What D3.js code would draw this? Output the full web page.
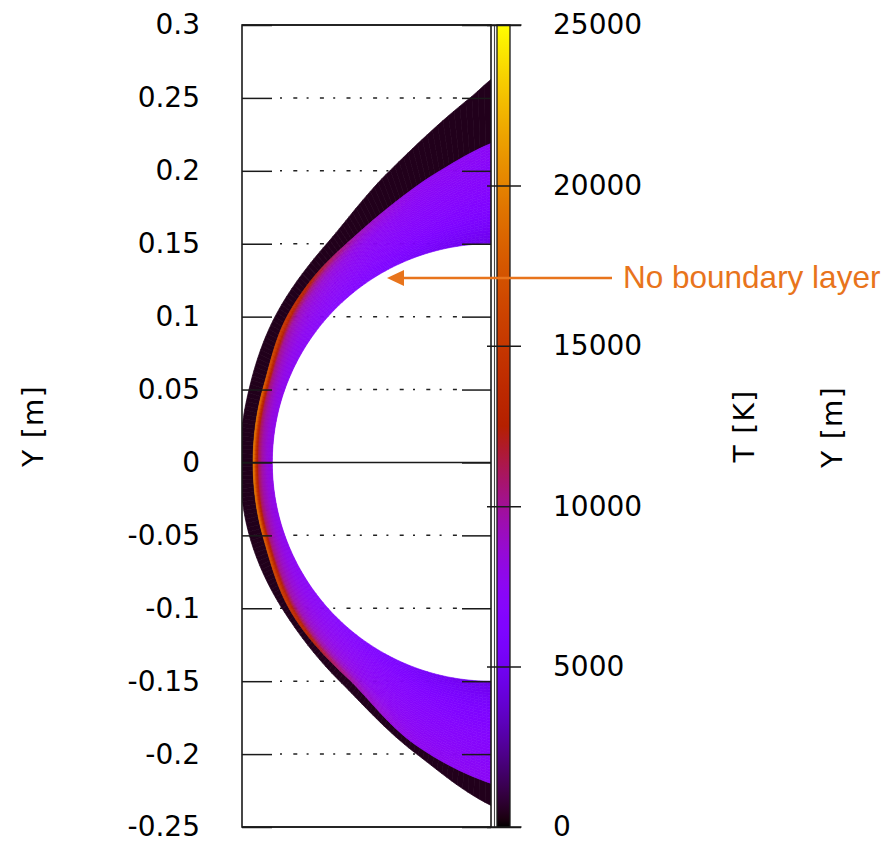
<!DOCTYPE html>
<html>
<head>
<meta charset="utf-8">
<script src="https://cdn.jsdelivr.net/npm/d3@7"></script>
<style>
  body { margin: 0; background: #fff; }
  svg { display: block; }
</style>
</head>
<body>
<svg id="chart" width="887" height="842"></svg>
<script>
// Temperature field in the shock layer ahead of a sphere (inviscid run, no boundary layer).
// Geometry in metres, body centre at (0, 0).

const bodyRadius = 0.15;

// shock front
const shockUpperX = [-0.1632, -0.1561, -0.1399, -0.1241, -0.0967, -0.0761, -0.035, 0];
const shockUpperY = [0, 0.0518, 0.1001, 0.1241, 0.1522, 0.1701, 0.2, 0.2188];
const shockLowerX = [-0.1561, -0.1385, -0.0981, -0.0507, 0];
const shockLowerY = [-0.0518, -0.1001, -0.1481, -0.1944, -0.2201];

// outer edge of the computational grid
const outerUpperX = [-0.1721, -0.168, -0.1481, -0.1125, -0.0693, -0.0144, 0];
const outerUpperY = [0, 0.0411, 0.1001, 0.1502, 0.2002, 0.25, 0.2627];
const outerLowerX = [-0.168, -0.1433, -0.1036, -0.0507, 0];
const outerLowerY = [-0.0411, -0.1001, -0.1502, -0.2002, -0.2352];

// temperature [K] across the shock layer
// rows: angle from the stagnation line [deg]; columns: fraction of the wall-to-shock distance
const layerAngles = [0, 15, 30, 45, 60, 75, 90];
const layerFractions = [0, 0.3, 0.55, 0.75, 0.87, 0.94, 1];
const layerTemperature = [
  [7800, 8600, 9800, 11500, 14500, 18000, 20000],
  [7700, 8400, 9500, 11000, 14000, 17000, 19000],
  [7300, 7800, 8800, 10000, 12500, 14800, 16000],
  [6800, 7300, 7900, 8800, 10200, 11800, 12800],
  [6000, 6800, 7200, 7600, 8300, 8900, 9300],
  [5200, 6400, 6900, 7200, 7400, 7600, 7700],
  [4500, 6000, 6700, 7000, 7200, 7300, 7300]
];
const freestreamTemperature = 420;

const yTicks = [0.3, 0.25, 0.2, 0.15, 0.1, 0.05, 0, -0.05, -0.1, -0.15, -0.2, -0.25];
const cbTicks = [0, 5000, 10000, 15000, 20000, 25000];

const plot = { left: 242, right: 491, top: 25, bottom: 827 };
const bar = { left: 497, right: 510 };

const svg = d3.select("#chart");
const x = d3.scaleLinear().domain([-0.1708, 0]).range([plot.left, plot.right]);
const y = d3.scaleLinear().domain([-0.25, 0.3]).range([plot.bottom, plot.top]);
const cbScale = d3.scaleLinear().domain([0, 25000]).range([plot.bottom, plot.top]);

// gnuplot default pm3d palette (rgbformulae 7,5,15)
const paletteInterp = t => {
  const r = Math.sqrt(t), g = t * t * t, b = Math.max(0, Math.sin(2 * Math.PI * t));
  return d3.rgb(r * 255, g * 255, b * 255).formatHex();
};
const color = d3.scaleSequential(paletteInterp).domain([0, 25000]).clamp(true);

// monotone cubic (Fritsch-Butland) interpolation
function monotone(xs, ys) {
  const n = xs.length, d = [], h = [], m = new Array(n);
  for (let i = 0; i < n - 1; i++) { h[i] = xs[i + 1] - xs[i]; d[i] = (ys[i + 1] - ys[i]) / h[i]; }
  m[0] = d[0]; m[n - 1] = d[n - 2];
  for (let i = 1; i < n - 1; i++) {
    if (d[i - 1] * d[i] <= 0) m[i] = 0;
    else m[i] = 3 * (h[i - 1] + h[i]) / ((2 * h[i] + h[i - 1]) / d[i - 1] + (h[i] + 2 * h[i - 1]) / d[i]);
  }
  return t => {
    const i = Math.max(0, Math.min(n - 2, d3.bisectRight(xs, t) - 1));
    const s = (t - xs[i]) / h[i];
    const h00 = 2 * s ** 3 - 3 * s ** 2 + 1, h10 = s ** 3 - 2 * s ** 2 + s;
    const h01 = -2 * s ** 3 + 3 * s ** 2, h11 = s ** 3 - s ** 2;
    return h00 * ys[i] + h10 * h[i] * m[i] + h01 * ys[i + 1] + h11 * h[i] * m[i + 1];
  };
}

// radius of a boundary as a function of the angle from the stagnation line
function polarProfile(xu, yu, xl, yl) {
  const pts = [];
  const add = (xs, ys) => xs.forEach((v, i) => pts.push({
    th: Math.atan2(ys[i], -v) * 180 / Math.PI, r: Math.hypot(v, ys[i])
  }));
  add(xu, yu); add(xl, yl);
  pts.sort((a, b) => a.th - b.th);
  return monotone(pts.map(p => p.th), pts.map(p => p.r));
}
const shockR = polarProfile(shockUpperX, shockUpperY, shockLowerX, shockLowerY);
const outerR = polarProfile(outerUpperX, outerUpperY, outerLowerX, outerLowerY);

function layerT(th, eta) {
  const a = Math.min(90, Math.abs(th));
  const i = Math.max(0, Math.min(layerAngles.length - 2, d3.bisectRight(layerAngles, a) - 1));
  const j = Math.max(0, Math.min(layerFractions.length - 2, d3.bisectRight(layerFractions, eta) - 1));
  const u = (a - layerAngles[i]) / (layerAngles[i + 1] - layerAngles[i]);
  const v = (eta - layerFractions[j]) / (layerFractions[j + 1] - layerFractions[j]);
  const T = layerTemperature;
  return (1 - u) * (1 - v) * T[i][j] + u * (1 - v) * T[i + 1][j]
       + (1 - u) * v * T[i][j + 1] + u * v * T[i + 1][j + 1];
}

const pt = (th, r) => {
  const a = th * Math.PI / 180;
  return [x(-r * Math.cos(a)), y(r * Math.sin(a))];
};

// mesh cells
const nTheta = 180, nEta = 36;
const darkCells = [], layerCells = [];
for (let i = 0; i < nTheta; i++) {
  const t0 = -90 + 180 * i / nTheta, t1 = -90 + 180 * (i + 1) / nTheta;
  const s0 = shockR(t0), s1 = shockR(t1), o0 = outerR(t0), o1 = outerR(t1);
  darkCells.push({ pts: [pt(t0, s0), pt(t1, s1), pt(t1, o1), pt(t0, o0)], T: freestreamTemperature });
  for (let j = 0; j < nEta; j++) {
    const e0 = j / nEta, e1 = (j + 1) / nEta;
    const r = (s, e) => bodyRadius + (s - bodyRadius) * e;
    layerCells.push({
      pts: [pt(t0, r(s0, e0)), pt(t1, r(s1, e0)), pt(t1, r(s1, e1)), pt(t0, r(s0, e1))],
      T: layerT((t0 + t1) / 2, (e0 + e1) / 2)
    });
  }
}

const defs = svg.append("defs");
defs.append("clipPath").attr("id", "plot-clip")
  .append("rect")
  .attr("x", plot.left).attr("y", plot.top)
  .attr("width", plot.right - plot.left).attr("height", plot.bottom - plot.top);

// grid
const gridTicks = yTicks.filter(v => v !== 0 && v !== 0.3 && v !== -0.25);
svg.append("g").selectAll("line").data(gridTicks).join("line")
  .attr("x1", plot.left + 38).attr("x2", plot.right - 29)
  .attr("y1", d => y(d)).attr("y2", d => y(d))
  .attr("stroke", "#222").attr("stroke-width", 1.5)
  .attr("stroke-dasharray", "2,11.3,4,9.3");

// temperature field
const line = d3.line();
const field = svg.append("g").attr("clip-path", "url(#plot-clip)");
field.append("g").selectAll("path").data(darkCells).join("path")
  .attr("d", d => line(d.pts) + "Z")
  .attr("fill", d => color(d.T)).attr("stroke", d => color(d.T)).attr("stroke-width", 0.7);
field.append("g").selectAll("path").data(layerCells).join("path")
  .attr("d", d => line(d.pts) + "Z")
  .attr("fill", d => color(d.T)).attr("stroke", d => color(d.T)).attr("stroke-width", 0.6);

// zero axis
svg.append("line")
  .attr("x1", plot.left).attr("x2", plot.right)
  .attr("y1", y(0)).attr("y2", y(0))
  .attr("stroke", "#1a1a1a").attr("stroke-width", 1.5);

const fontTicks = "'DejaVu Sans', Verdana, sans-serif";

// left axis: inward ticks with labels
const leftAxis = svg.append("g").attr("transform", `translate(${plot.left},0)`)
  .call(d3.axisLeft(y).tickValues(yTicks).tickSizeInner(-30).tickSizeOuter(0).tickPadding(42)
    .tickFormat(d => String(+d.toFixed(2))));
leftAxis.select(".domain").remove();
leftAxis.selectAll(".tick line").attr("stroke", "#1a1a1a").attr("stroke-width", 1.5);
leftAxis.selectAll(".tick text").attr("font-family", fontTicks).attr("font-size", 28).attr("fill", "#000");

// mirrored ticks on the right edge
const rightAxis = svg.append("g").attr("transform", `translate(${plot.right},0)`)
  .call(d3.axisRight(y).tickValues(yTicks).tickSizeInner(-29).tickSizeOuter(0).tickFormat(""));
rightAxis.select(".domain").remove();
rightAxis.selectAll(".tick line").attr("stroke", "#1a1a1a").attr("stroke-width", 1.5);

// frame
svg.append("rect")
  .attr("x", plot.left).attr("y", plot.top)
  .attr("width", plot.right - plot.left).attr("height", plot.bottom - plot.top)
  .attr("fill", "none").attr("stroke", "#1a1a1a").attr("stroke-width", 1.6);
svg.append("line").attr("x1", 494.5).attr("x2", 494.5).attr("y1", plot.top).attr("y2", plot.bottom)
  .attr("stroke", "#444").attr("stroke-width", 1.1);
[plot.top, plot.bottom].forEach(v => svg.append("line")
  .attr("x1", plot.left).attr("x2", 521.5).attr("y1", v).attr("y2", v)
  .attr("stroke", "#1a1a1a").attr("stroke-width", 1.6));

// colour bar
const grad = defs.append("linearGradient").attr("id", "cb-grad")
  .attr("x1", 0).attr("y1", 1).attr("x2", 0).attr("y2", 0);
grad.selectAll("stop").data(d3.range(0, 1.0001, 0.01)).join("stop")
  .attr("offset", d => d).attr("stop-color", d => color(d * 25000));
svg.append("rect")
  .attr("x", bar.left).attr("y", plot.top)
  .attr("width", bar.right - bar.left).attr("height", plot.bottom - plot.top)
  .attr("fill", "url(#cb-grad)").attr("stroke", "#1a1a1a").attr("stroke-width", 1.3);

const cbAxis = svg.append("g").attr("transform", "translate(487,0)")
  .call(d3.axisRight(cbScale).tickValues(cbTicks).tickSizeInner(34).tickSizeOuter(0).tickPadding(32)
    .tickFormat(d3.format("d")));
cbAxis.select(".domain").remove();
cbAxis.selectAll(".tick line").attr("stroke", "#1a1a1a").attr("stroke-width", 1.5);
cbAxis.selectAll(".tick text").attr("font-family", fontTicks).attr("font-size", 28).attr("fill", "#000");

// axis titles
const titles = [
  { text: "Y [m]", x: 33, y: 426 },
  { text: "T [K]", x: 744, y: 426 },
  { text: "Y [m]", x: 832, y: 427 }
];
svg.append("g").selectAll("text").data(titles).join("text")
  .attr("transform", d => `translate(${d.x},${d.y}) rotate(-90)`)
  .attr("text-anchor", "middle").attr("dy", "0.35em")
  .attr("font-family", fontTicks).attr("font-size", 28).attr("letter-spacing", 1.4)
  .attr("fill", "#000")
  .text(d => d.text);

// annotation
const noteColor = "#e8741c";
svg.append("line").attr("x1", 612).attr("x2", 401).attr("y1", 278).attr("y2", 278)
  .attr("stroke", noteColor).attr("stroke-width", 2.3);
svg.append("path").attr("d", "M387,278 L404,270 L404,286 Z").attr("fill", noteColor);
svg.append("text").attr("x", 623).attr("y", 288)
  .attr("font-family", "'Liberation Sans', Arial, sans-serif").attr("font-size", 31.5)
  .attr("fill", noteColor).text("No boundary layer");
</script>
</body>
</html>
